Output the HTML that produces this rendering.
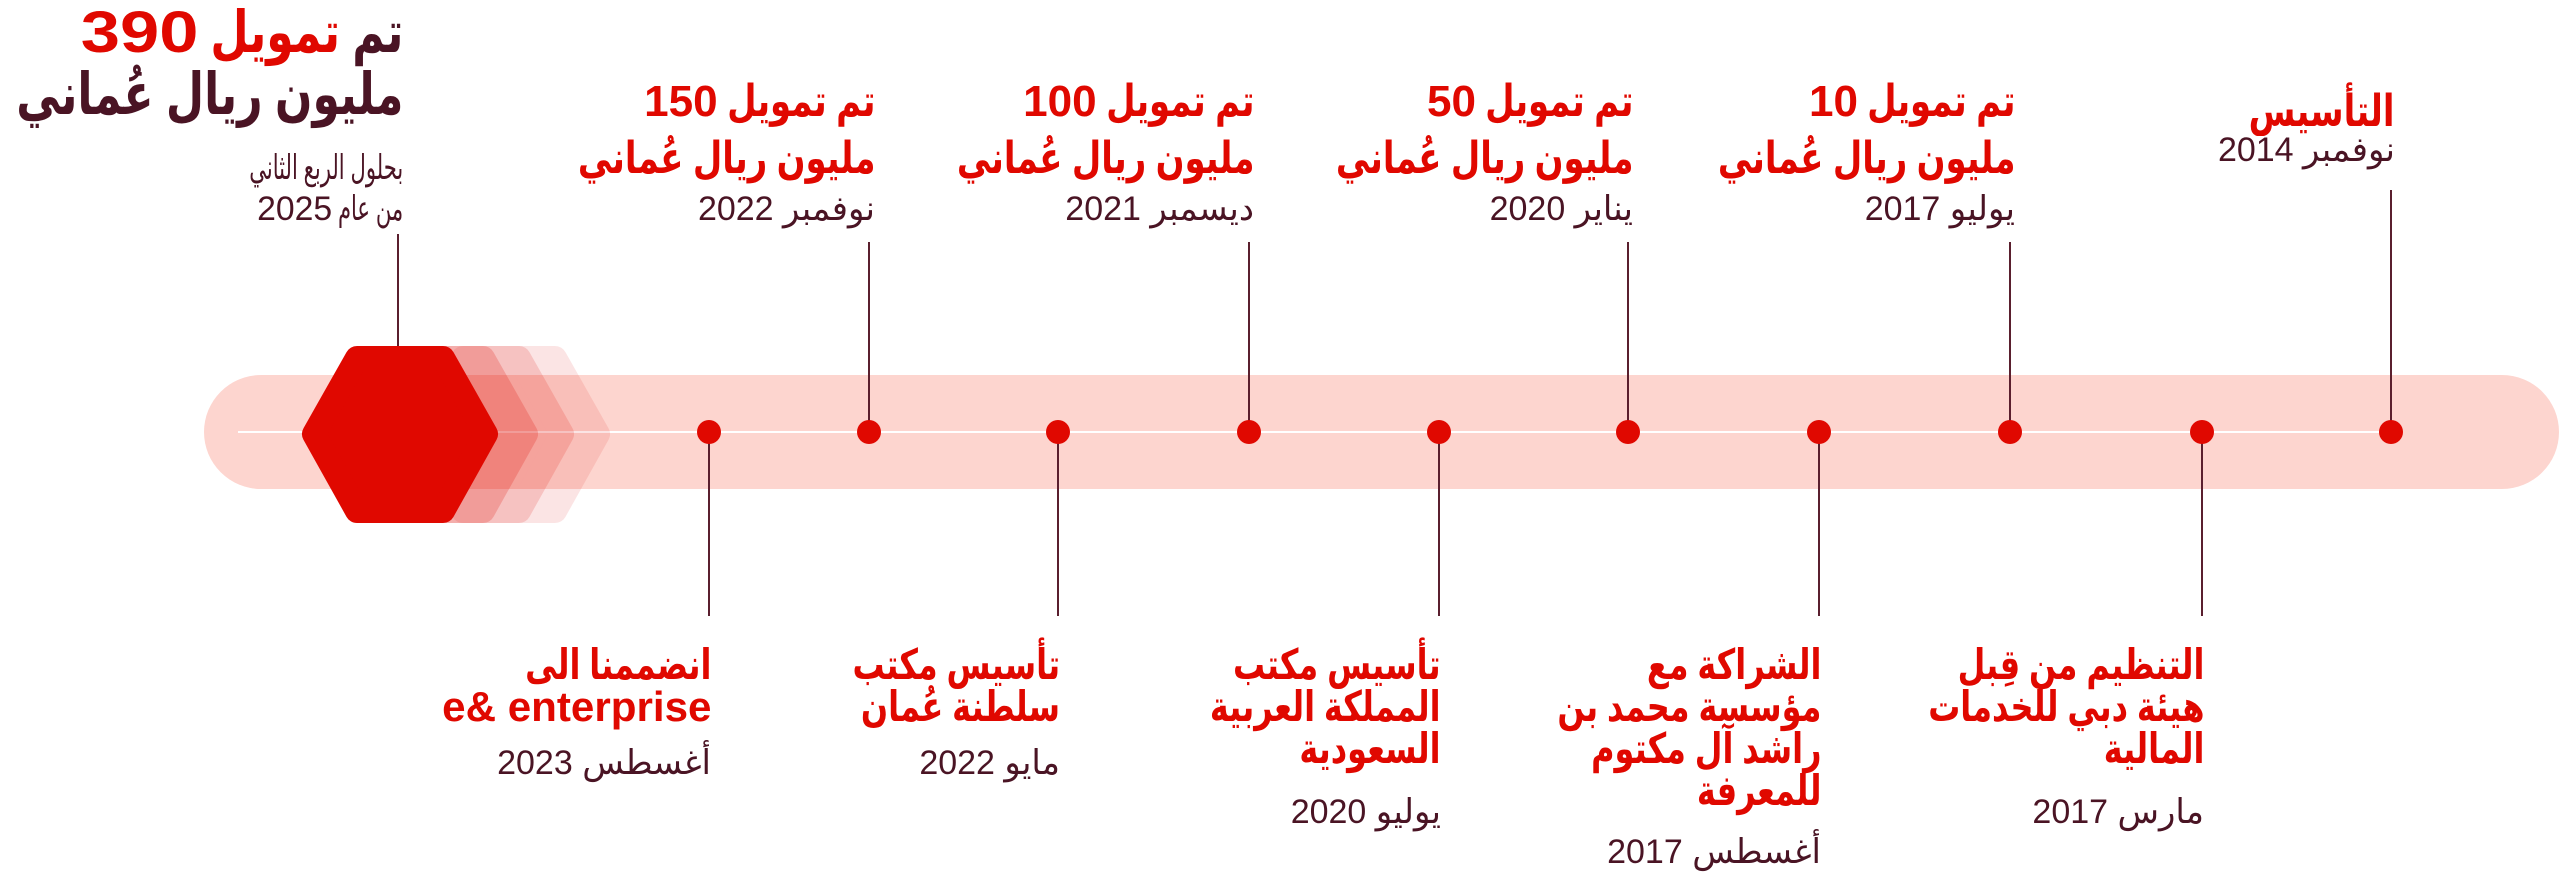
<!DOCTYPE html>
<html><head><meta charset="utf-8"><style>
body{margin:0;width:2560px;height:877px;background:#fff;position:relative;overflow:hidden;font-family:"Liberation Sans","DejaVu Sans",sans-serif}
.b{position:absolute;direction:rtl;text-align:right;white-space:nowrap}
.t{color:#e00800;font-weight:bold;font-size:44px;line-height:57px;transform:scaleX(.77);transform-origin:right top}
.d{color:#4a1424;font-size:34px;line-height:40px}
.bt{color:#e00800;font-weight:bold;font-size:42px;line-height:42px;transform:scaleX(.76);transform-origin:right top}
.n{display:inline-block;transform:scaleX(1.3);transform-origin:right center}
svg{position:absolute;left:0;top:0}
</style></head><body>
<svg width="2560" height="877">
<rect x="204" y="375" width="2355" height="114" rx="57" fill="#fdd5cf"/>
<line x1="238" y1="432" x2="2391" y2="432" stroke="#fff" stroke-width="2"/>
<g stroke-linejoin="round" stroke-width="24">
<polygon points="420,434 463,358 555,358 598,434 555,511 463,511" fill="#e00800" stroke="#e00800" opacity="0.1"/>
<polygon points="384,434 427,358 519,358 562,434 519,511 427,511" fill="#e00800" stroke="#e00800" opacity="0.15"/>
<polygon points="348,434 391,358 483,358 526,434 483,511 391,511" fill="#e00800" stroke="#e00800" opacity="0.2"/>
<polygon points="314,434 357,358 443,358 486,434 443,511 357,511" fill="#e00800" stroke="#e00800"/>
</g>
<g stroke="#5a1f2e" stroke-width="2">
<line x1="398" y1="234" x2="398" y2="346"/>
<line x1="869" y1="242" x2="869" y2="432"/>
<line x1="1249" y1="242" x2="1249" y2="432"/>
<line x1="1628" y1="242" x2="1628" y2="432"/>
<line x1="2010" y1="242" x2="2010" y2="432"/>
<line x1="2391" y1="190" x2="2391" y2="432"/>
<line x1="709" y1="432" x2="709" y2="616"/>
<line x1="1058" y1="432" x2="1058" y2="616"/>
<line x1="1439" y1="432" x2="1439" y2="616"/>
<line x1="1819" y1="432" x2="1819" y2="616"/>
<line x1="2202" y1="432" x2="2202" y2="616"/>
</g>
<g fill="#e00800">
<circle cx="709" cy="432" r="12"/><circle cx="869" cy="432" r="12"/><circle cx="1058" cy="432" r="12"/>
<circle cx="1249" cy="432" r="12"/><circle cx="1439" cy="432" r="12"/><circle cx="1628" cy="432" r="12"/>
<circle cx="1819" cy="432" r="12"/><circle cx="2010" cy="432" r="12"/><circle cx="2202" cy="432" r="12"/>
<circle cx="2391" cy="432" r="12"/>
</g>
</svg>

<div class="b" style="right:2157px;top:2px;font-weight:bold;font-size:58px;line-height:62px;color:#4a1424;transform:scaleX(.76);transform-origin:right top">تم <span style="color:#e00800">تمويل <span class="n" style="transform:scaleX(1.6);margin-left:58px">390</span></span><br>مليون ريال عُماني</div>
<div class="b d" style="right:2157px;top:148px;line-height:41px;transform:scaleX(.62);transform-origin:right top">بحلول الربع الثاني<br>من عام <span class="n" style="transform:scaleX(1.6);margin-left:46px">2025</span></div>

<div class="b t" style="right:1685px;top:73px">تم تمويل <span class="n" style="margin-left:22px">150</span><br>مليون ريال عُماني</div>
<div class="b d" style="right:1685px;top:189px">نوفمبر 2022</div>
<div class="b t" style="right:1306px;top:73px">تم تمويل <span class="n" style="margin-left:22px">100</span><br>مليون ريال عُماني</div>
<div class="b d" style="right:1306px;top:189px">ديسمبر 2021</div>
<div class="b t" style="right:927px;top:73px">تم تمويل <span class="n" style="margin-left:15px">50</span><br>مليون ريال عُماني</div>
<div class="b d" style="right:927px;top:189px">يناير 2020</div>
<div class="b t" style="right:545px;top:73px">تم تمويل <span class="n" style="margin-left:15px">10</span><br>مليون ريال عُماني</div>
<div class="b d" style="right:545px;top:189px">يوليو 2017</div>
<div class="b t" style="right:165px;top:83px">التأسيس</div>
<div class="b d" style="right:165px;top:130px">نوفمبر 2014</div>

<div class="b bt" style="right:1849px;top:644px">انضممنا الى<br><span class="n" dir="ltr" style="transform:scaleX(1.32);margin-left:85px">e&amp; enterprise</span></div>
<div class="b d" style="right:1849px;top:743px">أغسطس 2023</div>
<div class="b bt" style="right:1500px;top:644px">تأسيس مكتب<br>سلطنة عُمان</div>
<div class="b d" style="right:1500px;top:743px">مايو 2022</div>
<div class="b bt" style="right:1119px;top:644px">تأسيس مكتب<br>المملكة العربية<br>السعودية</div>
<div class="b d" style="right:1119px;top:792px">يوليو 2020</div>
<div class="b bt" style="right:739px;top:644px">الشراكة مع<br>مؤسسة محمد بن<br>راشد آل مكتوم<br>للمعرفة</div>
<div class="b d" style="right:739px;top:832px">أغسطس 2017</div>
<div class="b bt" style="right:356px;top:644px">التنظيم من قِبل<br>هيئة دبي للخدمات<br>المالية</div>
<div class="b d" style="right:356px;top:792px">مارس 2017</div>
</body></html>
